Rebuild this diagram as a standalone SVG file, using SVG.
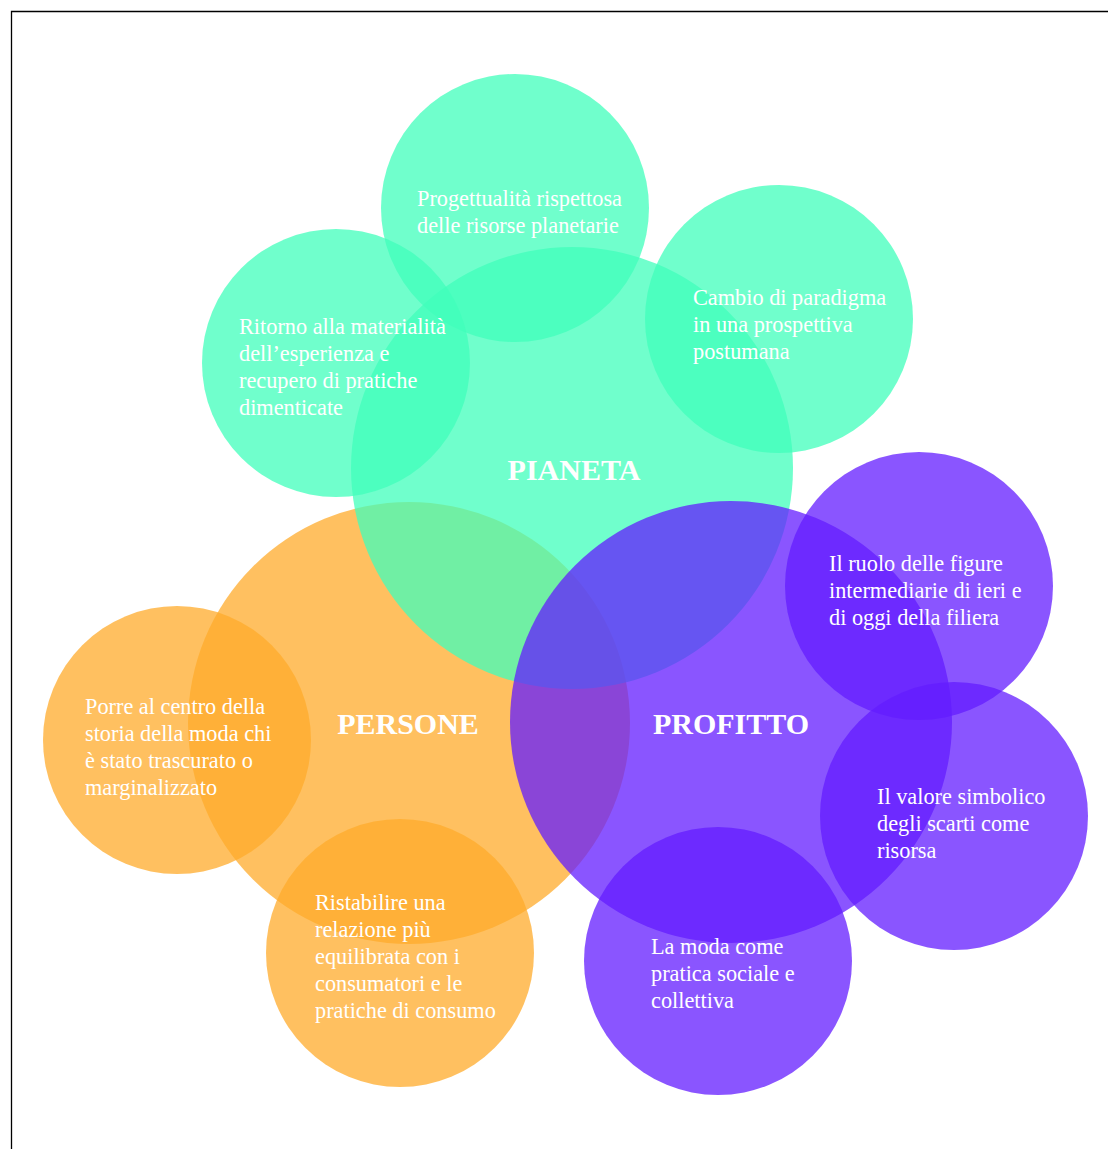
<svg xmlns="http://www.w3.org/2000/svg" width="1108" height="1149" viewBox="0 0 1108 1149">
<style>
.o{fill:#ffab2b;fill-opacity:.75}
.t{fill:#40ffbb;fill-opacity:.75}
.p{fill:#631cff;fill-opacity:.75}
text{font-family:"Liberation Serif","Times New Roman",serif;fill:#fff}
.s{font-size:22.3px}
.b{font-size:30px;font-weight:bold;text-anchor:middle}
</style>
<rect width="1108" height="1149" fill="#fff"/>
<path d="M11.5 1149V11.5H1108" fill="none" stroke="#000" stroke-width="1.3"/>
<g id="connectors"/>
<g id="persone"><circle class="o" cx="409" cy="723" r="221"/><text class="b" x="408" y="734">PERSONE</text></g>
<g id="persone-1"><circle class="o" cx="177" cy="740" r="134"/><text class="s" x="85" y="714">Porre al centro della</text><text class="s" x="85" y="741">storia della moda chi</text><text class="s" x="85" y="768">è stato trascurato o</text><text class="s" x="85" y="795">marginalizzato</text></g>
<g id="persone-2"><circle class="o" cx="400" cy="953" r="134"/><text class="s" x="315" y="910">Ristabilire una</text><text class="s" x="315" y="937">relazione più</text><text class="s" x="315" y="964">equilibrata con i</text><text class="s" x="315" y="991">consumatori e le</text><text class="s" x="315" y="1018">pratiche di consumo</text></g>
<g id="pianeta"><circle class="t" cx="572" cy="468" r="221"/><text class="b" x="574" y="480">PIANETA</text></g>
<g id="pianeta-1"><circle class="t" cx="515" cy="208" r="134"/><text class="s" x="417" y="206">Progettualità rispettosa</text><text class="s" x="417" y="233">delle risorse planetarie</text></g>
<g id="pianeta-2"><circle class="t" cx="336" cy="363" r="134"/><text class="s" x="239" y="334">Ritorno alla materialità</text><text class="s" x="239" y="361">dell’esperienza e</text><text class="s" x="239" y="388">recupero di pratiche</text><text class="s" x="239" y="415">dimenticate</text></g>
<g id="pianeta-3"><circle class="t" cx="779" cy="319" r="134"/><text class="s" x="693" y="305">Cambio di paradigma</text><text class="s" x="693" y="332">in una prospettiva</text><text class="s" x="693" y="359">postumana</text></g>
<g id="profitto"><circle class="p" cx="731" cy="722" r="221"/><text class="b" x="731" y="734">PROFITTO</text></g>
<g id="profitto-1"><circle class="p" cx="919" cy="586" r="134"/><text class="s" x="829" y="571">Il ruolo delle figure</text><text class="s" x="829" y="598">intermediarie di ieri e</text><text class="s" x="829" y="625">di oggi della filiera</text></g>
<g id="profitto-2"><circle class="p" cx="954" cy="816" r="134"/><text class="s" x="877" y="804">Il valore simbolico</text><text class="s" x="877" y="831">degli scarti come</text><text class="s" x="877" y="858">risorsa</text></g>
<g id="profitto-3"><circle class="p" cx="718" cy="961" r="134"/><text class="s" x="651" y="954">La moda come</text><text class="s" x="651" y="981">pratica sociale e</text><text class="s" x="651" y="1008">collettiva</text></g>
</svg>
